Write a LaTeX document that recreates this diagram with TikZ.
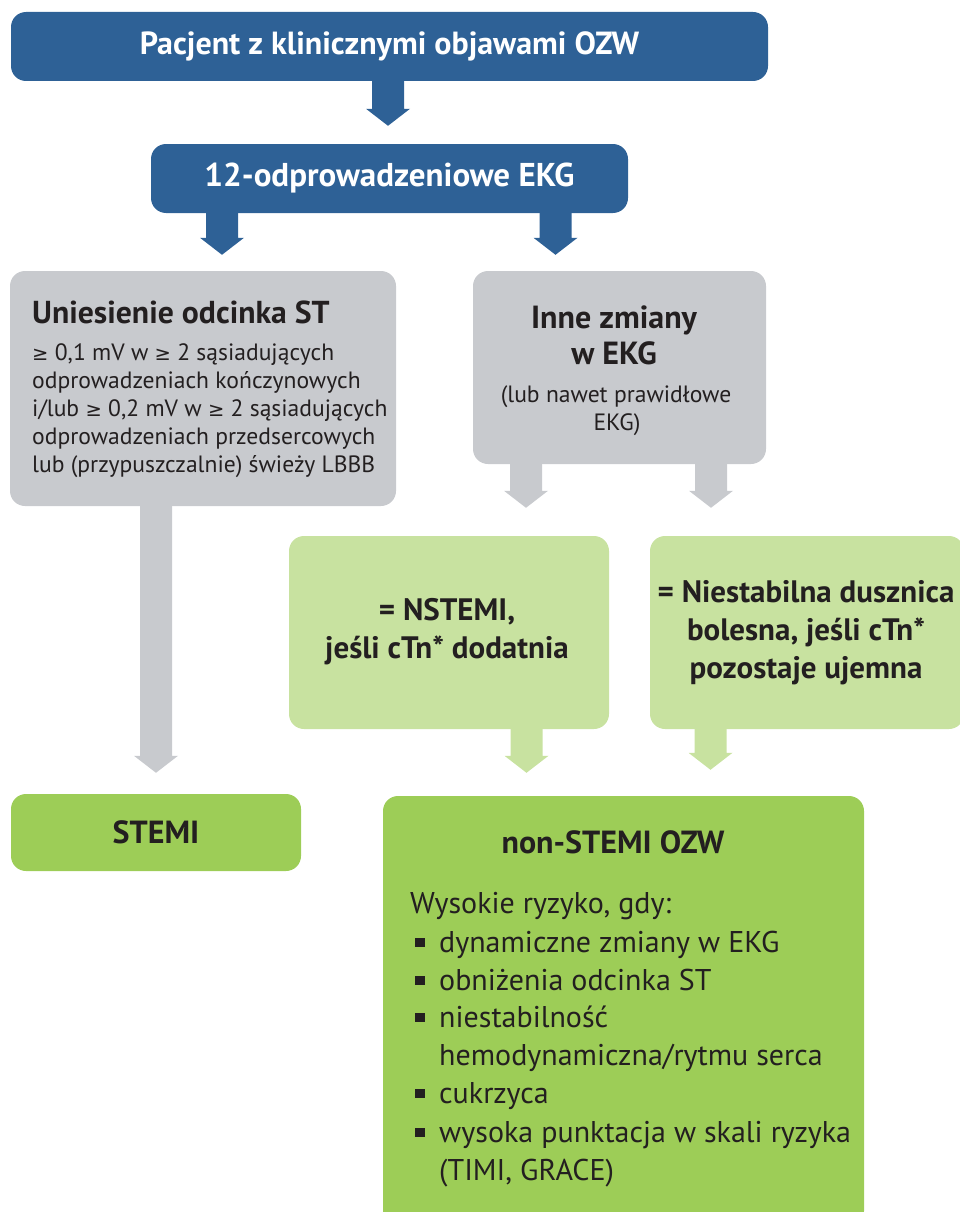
\documentclass[tikz,border=0pt]{standalone}
\usepackage{fontspec}
\setmainfont{PT Sans}
\newfontfamily\symf{DejaVu Sans}
\usetikzlibrary{calc}
\definecolor{cblue}{HTML}{2E6196}
\definecolor{cgrey}{HTML}{C8CACE}
\definecolor{clight}{HTML}{C8E2A0}
\definecolor{cgreen}{HTML}{9DCD57}
\definecolor{ctext}{HTML}{231F20}
\newcommand\fsz[2]{\fontsize{#1}{#2}\selectfont}
\newcommand\gesym{{\symf\fontsize{19.5}{26}\selectfont ≥}}
% block arrow: colour, start (only y used), tip
\newcommand\blockarrow[3]{%
  \fill[#1] let \p1=#2, \p2=#3 in
    (\x2-16pt,\y1) -- (\x2+16pt,\y1) -- (\x2+16pt,\y2+17pt) -- (\x2+22pt,\y2+17pt)
    -- (\x2,\y2) -- (\x2-22pt,\y2+17pt) -- (\x2-16pt,\y2+17pt) -- cycle;}
\begin{document}
\begin{tikzpicture}[x=1pt,y=-1pt,
  box/.style={rectangle, rounded corners=15pt, inner sep=0pt, anchor=center, align=center},
  bluebox/.style={box, fill=cblue, text=white},
  greybox/.style={box, fill=cgrey},
  lightbox/.style={box, fill=clight},
  greenbox/.style={box, fill=cgreen, text=ctext},
  tl/.style={inner sep=0pt, text=ctext, anchor=base west},
  tc/.style={inner sep=0pt, text=ctext, anchor=base},
  bodyf/.style={font=\fsz{23.6}{28}},
  headf/.style={font=\fsz{31}{36}\bfseries},
  listf/.style={font=\fsz{30}{38}},
  bul/.style={rectangle, fill=ctext, minimum width=10pt, minimum height=9.5pt, inner sep=0pt}
]
\useasboundingbox (0,0) rectangle (960,1212);
\clip (0,0) rectangle (960,1212);

% boxes
\node[bluebox, minimum width=757pt, minimum height=69pt, font=\fsz{32}{38}\bfseries] (b1) at (389.5,46.5) {Pacjent z klinicznymi objawami OZW};
\node[bluebox, minimum width=477pt, minimum height=69pt, font=\fsz{33}{38}\bfseries] (b2) at (389.5,178.5) {12-odprowadzeniowe EKG};
\node[greybox, minimum width=386pt, minimum height=235pt] (gL) at (203,388.5) {};
\node[greybox, minimum width=293pt, minimum height=193pt] (gR) at (619.5,367.5) {};
\node[lightbox, minimum width=320pt, minimum height=193pt] (lL) at (449,632.5) {};
\node[lightbox, minimum width=314pt, minimum height=193pt] (lR) at (807,632.5) {};
\node[greenbox, minimum width=290pt, minimum height=77pt, font=\fsz{32}{36}\bfseries] (st) at (156,832.5) {STEMI};
\node[greenbox, minimum width=481pt, minimum height=430pt] (ng) at (623.5,1011) {};

% arrows
\blockarrow{cblue}{(b1.south)}{($(b2.north)+(-1.5,-18)$)}
\blockarrow{cblue}{(b2.south)}{($(gL.north)+(19,-16)$)}
\blockarrow{cblue}{(b2.south)}{($(gR.north)+(-64,-16)$)}
\blockarrow{cgrey}{(gR.south)}{($(lL.north)+(77,-28)$)}
\blockarrow{cgrey}{(gR.south)}{($(lR.north)+(-96,-28)$)}
\blockarrow{cgrey}{(gL.south)}{($(st.north)+(0,-21)$)}
\blockarrow{clight}{(lL.south)}{($(ng.north)+(-97,-23)$)}
\blockarrow{clight}{(lR.south)}{($(ng.north)+(87,-26)$)}

% left grey text
\node[tl, font=\fsz{31.7}{36}\bfseries] (gL0) at (32,323) {Uniesienie odcinka ST};
\node[tl, bodyf] (gL1) at (32,360) {\gesym{} 0,1 mV w \gesym{} 2 sąsiadujących};
\node[tl, bodyf] (gL2) at (32,388) {odprowadzeniach kończynowych};
\node[tl, bodyf] (gL3) at (32,416) {i/lub \gesym{} 0,2 mV w \gesym{} 2 sąsiadujących};
\node[tl, bodyf] (gL4) at (32,444) {odprowadzeniach przedsercowych};
\node[tl, bodyf] (gL5) at (32,472) {lub (przypuszczalnie) świeży LBBB};

% right grey text
\node[tc, font=\fsz{32}{36}\bfseries] (gR1) at (614,328) {Inne zmiany};
\node[tc, font=\fsz{32}{36}\bfseries] (gR2) at (614,364) {w EKG};
\node[tc, bodyf] (gR3) at (616,402) {(lub nawet prawidłowe};
\node[tc, bodyf] (gR4) at (617,430) {EKG)};

% light green texts
\node[tc, headf] (lL1) at (447,620) {= NSTEMI,};
\node[tc, headf] (lL2) at (447,658) {jeśli cTn* dodatnia};
\node[tc, headf] (lR1) at (806,602) {= Niestabilna dusznica};
\node[tc, headf] (lR2) at (806,640) {bolesna, jeśli cTn*};
\node[tc, headf] (lR3) at (806,678) {pozostaje ujemna};

% non-STEMI box text
\node[tc, font=\fsz{32}{36}\bfseries] (ng0) at (613,853) {non-STEMI OZW};
\node[tl, listf] (ng1) at (410,913) {Wysokie ryzyko, gdy:};
\node[tl, listf] (i1) at (439,952) {dynamiczne zmiany w EKG};
\node[tl, listf] (i2) at (439,990) {obniżenia odcinka ST};
\node[tl, listf] (i3) at (439,1027) {niestabilność};
\node[tl, listf] (i3b) at (439,1065) {hemodynamiczna/rytmu serca};
\node[tl, listf] (i4) at (439,1103) {cukrzyca};
\node[tl, listf] (i5) at (439,1142) {wysoka punktacja w skali ryzyka};
\node[tl, listf] (i5b) at (439,1180) {(TIMI, GRACE)};
\node[bul] (u1) at (420,942.5) {};
\node[bul] (u2) at (420,980.5) {};
\node[bul] (u3) at (420,1017.5) {};
\node[bul] (u4) at (420,1093.5) {};
\node[bul] (u5) at (420,1132.5) {};
\end{tikzpicture}
\end{document}
